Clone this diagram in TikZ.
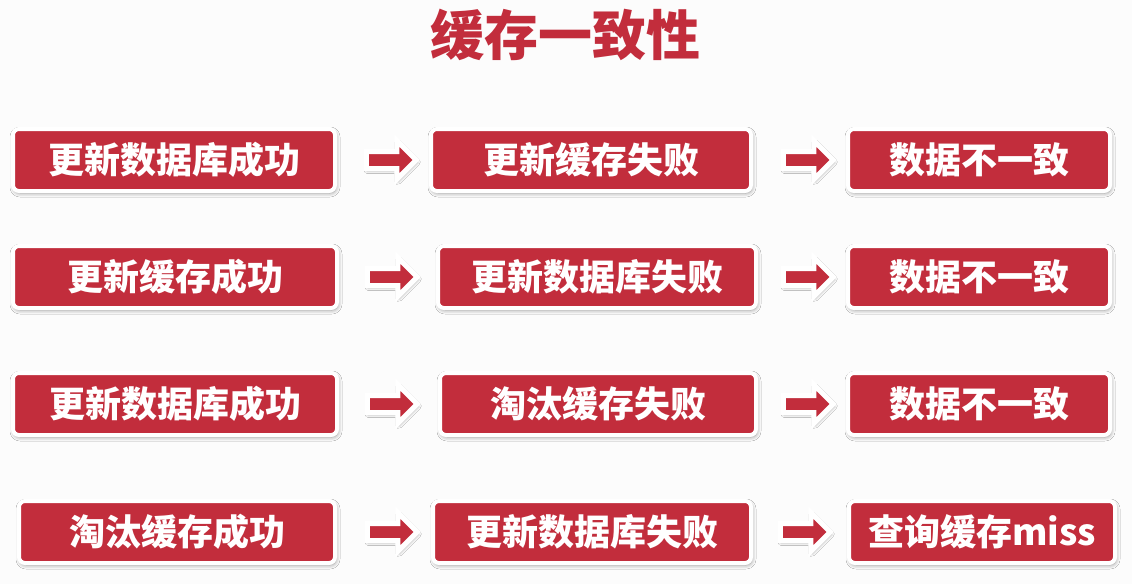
\documentclass[tikz,border=0pt]{standalone}
\usepackage{fontspec}
\newfontfamily\cjk{Noto Sans CJK SC}
\usetikzlibrary{shapes.arrows,shadows.blur}
\definecolor{cachered}{HTML}{C22D3C}

\tikzset{
  stepbox/.style={rectangle, rounded corners=6pt, fill=cachered, draw=white,
    line width=4pt, minimum height=62pt, inner sep=0pt, text=white,
    font=\cjk\bfseries\fontsize{36}{36}\selectfont,
    blur shadow={shadow xshift=1pt, shadow yshift=-2pt, shadow blur radius=4pt, shadow opacity=45}},
  goarrow/.style={single arrow, fill=cachered, draw=white, line width=5pt,
    minimum height=50pt, inner sep=6pt, single arrow head extend=11pt,
    blur shadow={shadow xshift=1pt, shadow yshift=-2pt, shadow blur radius=3pt, shadow opacity=40}}
}

\begin{document}
\begin{tikzpicture}[x=1pt,y=-1pt]
\useasboundingbox (0,0) rectangle (1132,584);
\fill[white!99!black] (0,0) rectangle (1132,584);

\node[text=cachered, font=\cjk\bfseries\fontsize{54}{54}\selectfont] (title) at (565,35) {缓存一致性};

% row 1
\node[stepbox, minimum width=322pt] (b11) at (174,160) {更新数据库成功};
\node[stepbox, minimum width=320pt] (b12) at (591,160) {更新缓存失败};
\node[stepbox, minimum width=262pt] (b13) at (979,160) {数据不一致};
\node[goarrow] (a11) at (387,160) {};
\node[goarrow] (a12) at (804,160) {};

% row 2
\node[stepbox, minimum width=324pt] (b21) at (175,277) {更新缓存成功};
\node[stepbox, minimum width=318pt] (b22) at (597,277) {更新数据库失败};
\node[stepbox, minimum width=262pt] (b23) at (979,277) {数据不一致};
\node[goarrow] (a21) at (388,277) {};
\node[goarrow] (a22) at (804,277) {};

% row 3
\node[stepbox, minimum width=324pt] (b31) at (175,404) {更新数据库成功};
\node[stepbox, minimum width=316pt] (b32) at (598,404) {淘汰缓存失败};
\node[stepbox, minimum width=262pt] (b33) at (979,404) {数据不一致};
\node[goarrow] (a31) at (388,404) {};
\node[goarrow] (a32) at (804,404) {};

% row 4
\node[stepbox, minimum width=316pt] (b41) at (177,532) {淘汰缓存成功};
\node[stepbox, minimum width=318pt] (b42) at (592,532) {更新数据库失败};
\node[stepbox, minimum width=266pt] (b43) at (982,532) {查询缓存miss};
\node[goarrow] (a41) at (388,532) {};
\node[goarrow] (a42) at (801,532) {};

\end{tikzpicture}
\end{document}
